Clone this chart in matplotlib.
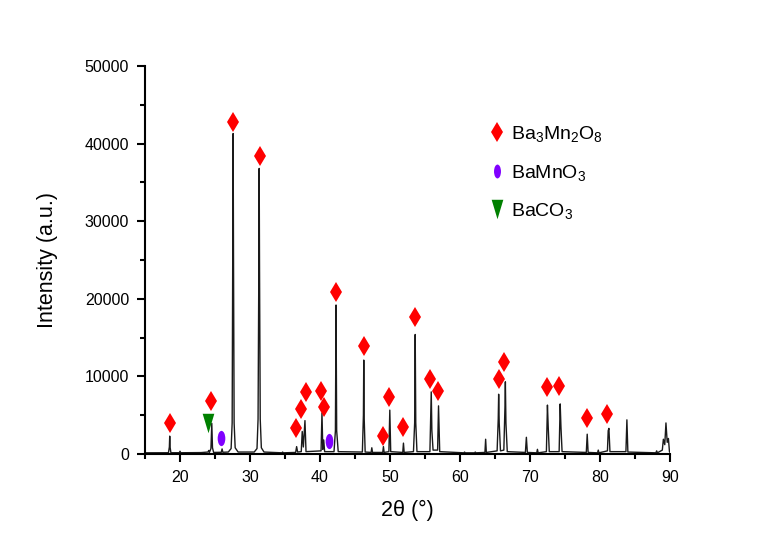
import matplotlib.pyplot as plt
from matplotlib.path import Path
from matplotlib.lines import Line2D
from matplotlib.transforms import Affine2D
from matplotlib.ticker import MultipleLocator

plt.rcParams['font.family'] = ['Liberation Sans', 'DejaVu Sans']
plt.rcParams['mathtext.fontset'] = 'custom'
plt.rcParams['mathtext.rm'] = 'Liberation Sans'
plt.rcParams['mathtext.default'] = 'regular'

# XRD trace (one peak per line)
two_theta = [
    15.0, 18.35, 18.48, 18.53, 18.58, 18.7,
    19.9, 20.0, 20.1,
    23.0, 24.0, 24.1, 24.2, 24.42, 24.54, 24.64, 24.8,
    25.9, 26.01, 26.12,
    26.9, 27.3, 27.45, 27.54, 27.59, 27.64, 27.73, 27.88, 28.3,
    30.6, 31.0, 31.15, 31.26, 31.31, 31.36, 31.46, 31.62, 32.0,
    34.56, 34.66, 34.76,
    36.52, 36.66, 36.8,
    37.32, 37.46, 37.62, 37.85, 38.0,
    40.15, 40.28, 40.4, 40.53, 40.66,
    42.0, 42.2, 42.29, 42.38, 42.6,
    46.05, 46.2, 46.25, 46.3, 46.45,
    47.3, 47.4, 47.5,
    48.96, 49.06, 49.16,
    49.84, 49.97, 50.1,
    51.82, 51.92, 52.02,
    53.35, 53.52, 53.6, 53.68, 53.85,
    55.7, 55.84, 55.89, 55.98, 56.15,
    56.8, 56.93, 57.1,
    60.55, 60.65, 60.75,
    62.08, 62.18, 62.28,
    63.56, 63.66, 63.76,
    65.3, 65.46, 65.52, 65.6, 65.78,
    66.26, 66.42, 66.48, 66.56, 66.75,
    69.34, 69.48, 69.62,
    70.96, 71.06, 71.16,
    72.34, 72.49, 72.6, 72.75,
    74.16, 74.31, 74.42, 74.58,
    78.04, 78.17, 78.3,
    79.65, 79.75, 79.85,
    81.06, 81.17, 81.27, 81.42,
    83.7, 83.84, 83.98,
    87.98, 88.09, 88.2,
    88.9, 89.05, 89.25, 89.42, 89.6, 89.77, 89.92, 90.0,
]
intensity = [
    150, 160, 900, 2300, 900, 160,
    160, 350, 160,
    180, 250, 450, 200, 700, 3950, 800, 200,
    220, 650, 220,
    250, 700, 4000, 26000, 41300, 26000, 4000, 800, 250,
    250, 700, 4500, 24000, 36800, 24000, 4500, 800, 250,
    150, 250, 150,
    200, 950, 250,
    300, 2900, 900, 4300, 300,
    400, 5300, 600, 1800, 300,
    300, 3000, 19200, 3000, 300,
    250, 5000, 12100, 5000, 250,
    200, 800, 200,
    200, 950, 200,
    300, 5650, 300,
    200, 1400, 200,
    300, 4000, 15400, 4000, 300,
    300, 6000, 8000, 3000, 500,
    500, 6200, 300,
    150, 250, 150,
    150, 250, 150,
    200, 1900, 200,
    400, 4500, 7700, 4000, 400,
    500, 6000, 9300, 4000, 300,
    200, 2150, 200,
    150, 600, 150,
    300, 6300, 3500, 300,
    300, 6450, 3500, 300,
    200, 2550, 200,
    150, 500, 150,
    400, 3000, 3300, 300,
    300, 4400, 250,
    150, 400, 150,
    500, 1900, 1200, 4000, 1500, 2000, 300, 200,
]

# phase markers
ba3mn2o8_tt = [18.53, 24.49, 27.64, 31.45, 36.56, 37.32, 37.99, 40.18, 40.61, 42.29,
               46.25, 49.06, 49.87, 51.92, 53.6, 55.74, 56.84, 65.52, 66.34, 72.49,
               74.16, 78.17, 81.03]
ba3mn2o8_y = [3960, 6870, 42800, 38400, 3300, 5750, 8030, 8150, 6000, 20900,
              13900, 2360, 7380, 3440, 17600, 9630, 8120, 9630, 11800, 8680,
              8810, 4600, 5110]
bamno3_tt = [25.87, 41.24]
bamno3_y = [2020, 1680]
baco3_tt = [23.97]
baco3_y = [3950]

labels = ['Ba$_3$Mn$_2$O$_8$', 'BaMnO$_3$', 'BaCO$_3$']

ellipse = Path.unit_circle().transformed(Affine2D().scale(0.5, 1.0))
tri_down = Path([(-0.3, 0.5), (0.3, 0.5), (0.0, -0.5), (-0.3, 0.5)],
                [Path.MOVETO, Path.LINETO, Path.LINETO, Path.CLOSEPOLY])

fig = plt.figure(figsize=(7.6, 5.37), dpi=100)
ax = fig.add_axes([0.1908, 0.1546, 0.6908, 0.7225])

ax.plot(two_theta, intensity, color='#1a1a1a', lw=1.0)
ax.plot(ba3mn2o8_tt, ba3mn2o8_y, 'd', color='#ff0000', ms=10.5, mew=0, ls='none')
ax.plot(bamno3_tt, bamno3_y, marker=ellipse, color='#8000ff', ms=11, mew=0, ls='none')
ax.plot(baco3_tt, baco3_y, marker=tri_down, color='#008000', ms=14, mew=0, ls='none')

handles = [
    Line2D([], [], marker='d', color='#ff0000', ms=10, mew=0, ls='none'),
    Line2D([], [], marker=ellipse, color='#8000ff', ms=10, mew=0, ls='none'),
    Line2D([], [], marker=tri_down, color='#008000', ms=14, mew=0, ls='none'),
]
ax.legend(handles, labels, loc='upper left', bbox_to_anchor=(0.615, 0.895),
          frameon=False, fontsize=14, labelspacing=0.95, handletextpad=0.1,
          handlelength=1.2)

ax.set_xlim(15, 90)
ax.set_ylim(0, 50000)
ax.xaxis.set_major_locator(MultipleLocator(10))
ax.xaxis.set_minor_locator(MultipleLocator(5))
ax.yaxis.set_major_locator(MultipleLocator(10000))
ax.yaxis.set_minor_locator(MultipleLocator(5000))
for side in ['top', 'right']:
    ax.spines[side].set_visible(False)
for side in ['left', 'bottom']:
    ax.spines[side].set_linewidth(1.5)
ax.tick_params(which='major', direction='out', length=6, width=1.5,
               labelsize=11.5, pad=5.5)
ax.tick_params(which='minor', direction='out', length=3.5, width=1.5)

ax.set_xlabel('2θ (°)', fontsize=15.5, labelpad=11)
ax.set_ylabel('Intensity (a.u.)', fontsize=15.5, labelpad=19)

plt.savefig('out.png', dpi=100)
